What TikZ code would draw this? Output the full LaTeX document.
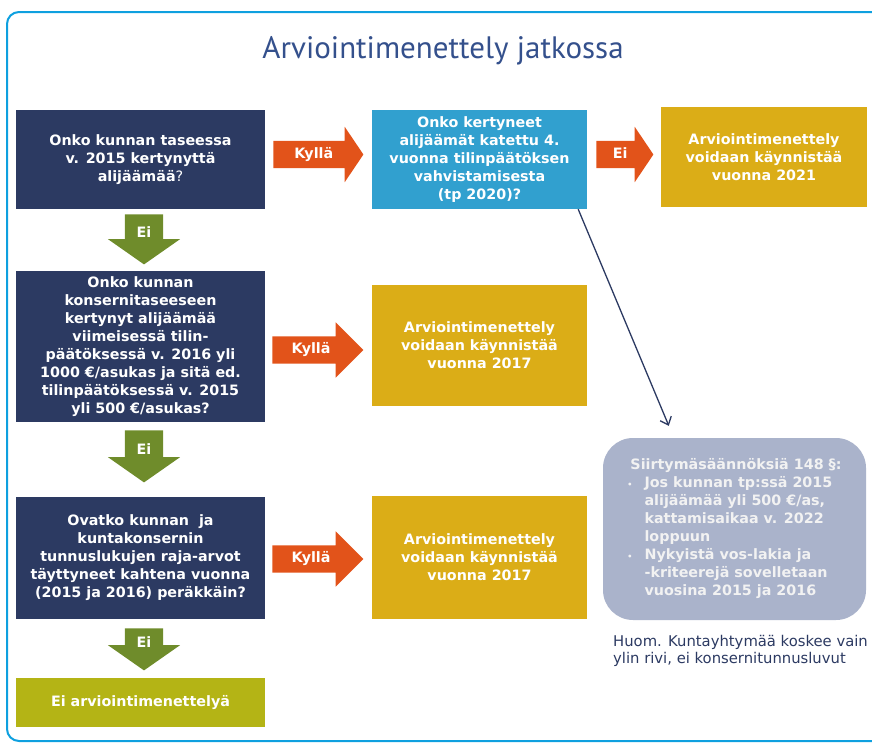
\documentclass[tikz,border=0pt]{standalone}
\usepackage{fontspec}
\setmainfont{DejaVu Sans}
\newfontfamily\titlefont{PT Sans}
\usetikzlibrary{shapes.arrows,arrows.meta}
\definecolor{colorNavy}{HTML}{2C3A62}
\definecolor{colorSky}{HTML}{31A0CF}
\definecolor{colorGold}{HTML}{DBAD17}
\definecolor{colorOrange}{HTML}{E2531A}
\definecolor{colorGreen}{HTML}{6F8C2B}
\definecolor{colorOlive}{HTML}{B4B415}
\definecolor{colorGrey}{HTML}{AAB3CB}
\definecolor{colorFrame}{HTML}{0EA0DF}
\definecolor{colorTitle}{HTML}{34508C}
\newcommand*{\boxtext}{\fontsize{14.3}{18}\selectfont\bfseries}

\begin{document}
\begin{tikzpicture}[x=1pt,y=-1pt,
		box/.style={rectangle, inner sep=0pt, align=center, text=white, font=\boxtext},
		qbox/.style={box, fill=colorNavy, minimum width=249pt},
		rbox/.style={box, fill=colorGold, minimum width=215pt},
		yesarrow/.style={single arrow, fill=colorOrange, text=white, font=\boxtext,
			inner xsep=2pt, inner ysep=6.75pt, text height=10.5pt, text depth=3pt,
			single arrow head extend=14pt, anchor=tail},
		noarrow/.style={single arrow, shape border rotate=270, fill=colorGreen, text=white,
			font=\boxtext, text width=16pt, align=center, inner xsep=11pt, inner ysep=3pt,
			text height=10.5pt, text depth=0pt, single arrow head extend=17pt,
			single arrow tip angle=110, anchor=tail},
	]
		\useasboundingbox (0,0) rectangle (872,744);
		\begin{scope}
		\clip (0,0) rectangle (872,744);
		\draw[colorFrame, line width=2pt, rounded corners=12pt] (7,12) rectangle (892,741);
		\end{scope}
		%
		\node[font=\titlefont\fontsize{31}{34}\selectfont, text=colorTitle] (title) at (443,51) {Arviointimenettely jatkossa};
		%
		\node[qbox, minimum height=99pt] (q1) at (140.5,159.5) {Onko kunnan taseessa\\v. 2015 kertynyttä\\alijäämää{\mdseries ?}};
		\node[box, fill=colorSky, minimum width=215pt, minimum height=99pt] (q2) at (479.5,159.5) {Onko kertyneet\\alijäämät katettu 4.\\vuonna tilinpäätöksen\\vahvistamisesta\\(tp 2020)?};
		\node[box, fill=colorGold, minimum width=206pt, minimum height=100pt] (r1) at (764,157) {Arviointimenettely\\voidaan käynnistää\\vuonna 2021};
		\node[qbox, minimum height=151pt] (q3) at (140.5,346.5) {Onko kunnan\\konsernitaseeseen\\kertynyt alijäämää\\viimeisessä tilin-\\päätöksessä v. 2016 yli\\1000 €/asukas ja sitä ed.\\tilinpäätöksessä v. 2015\\yli 500 €/asukas?};
		\node[rbox, minimum height=121pt] (r2) at (479.5,345.5) {Arviointimenettely\\voidaan käynnistää\\vuonna 2017};
		\node[qbox, minimum height=122pt] (q4) at (140.5,558) {Ovatko kunnan\ \ ja\\kuntakonsernin\\tunnuslukujen raja-arvot\\täyttyneet kahtena vuonna\\(2015 ja 2016) peräkkäin?};
		\node[rbox, minimum height=123pt] (r3) at (479.5,557.5) {Arviointimenettely\\voidaan käynnistää\\vuonna 2017};
		\node[box, fill=colorOlive, minimum width=249pt, minimum height=49pt] (r4) at (140.5,702.5) {Ei arviointimenettelyä};
		%
		\node[box, fill=colorGrey, text=white!95!black, rounded corners=30pt, minimum width=263pt, minimum height=182pt] (note) at (734.5,529) {%
			\begin{tabular}{@{}l@{\hspace{12pt}}l@{}}
				\multicolumn{2}{@{}l@{}}{\hspace{3pt}Siirtymäsäännöksiä 148 §:}\\
				{\fontsize{8}{8}\selectfont •} & Jos kunnan tp:ssä 2015\\
				& alijäämää yli 500 €/as,\\
				& kattamisaikaa v. 2022\\
				& loppuun\\
				{\fontsize{8}{8}\selectfont •} & Nykyistä vos-lakia ja\\
				& -kriteerejä sovelletaan\\
				& vuosina 2015 ja 2016
			\end{tabular}};
		\node[anchor=west, align=left, text=colorNavy, font=\fontsize{14.8}{17.5}\selectfont, inner sep=0pt] (huom) at (613,651) {Huom. Kuntayhtymää koskee vain\\ylin rivi, ei konsernitunnusluvut};
		%
		\node[yesarrow, minimum height=90pt, single arrow tip angle=112] (a1) at ([xshift=8pt,yshift=5pt]q1.east) {Kyllä};
		\node[yesarrow, minimum height=57pt, single arrow tip angle=112] (a2) at ([xshift=9pt,yshift=5pt]q2.east) {Ei};
		\node[yesarrow, minimum height=91pt] (a3) at ([xshift=7pt,yshift=-3.5pt]q3.east) {Kyllä};
		\node[yesarrow, minimum height=91pt] (a4) at ([xshift=7pt,yshift=-1pt]q4.east) {Kyllä};
		%
		\node[noarrow, minimum height=50pt] (d1) at ([xshift=3.5pt,yshift=-5pt]q1.south) {Ei};
		\node[noarrow, minimum height=52pt] (d2) at ([xshift=3.5pt,yshift=-8pt]q3.south) {Ei};
		\node[noarrow, minimum height=42pt] (d3) at ([xshift=3.5pt,yshift=-9pt]q4.south) {Ei};
		%
		\draw[colorNavy, line width=1.3pt, -{Straight Barb[length=7pt,width=12pt]}] ([xshift=-9pt]q2.south east) -- ([xshift=66pt,yshift=12pt]note.north west);
	\end{tikzpicture}
\end{document}
